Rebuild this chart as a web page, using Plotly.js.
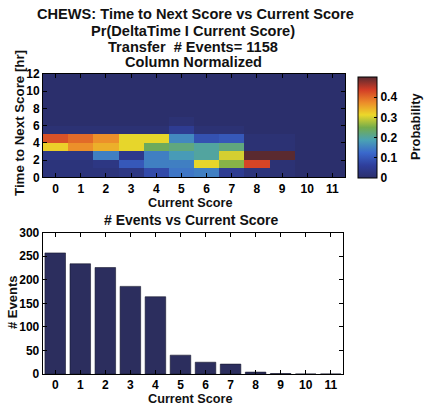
<!DOCTYPE html>
<html>
<head>
<meta charset="utf-8">
<script src="https://cdn.plot.ly/plotly-3.0.1.min.js"></script>
<style>html,body{margin:0;padding:0;background:#fff;}#chart{width:424px;height:406px;}</style>
</head>
<body>
<div id="chart"></div>
<script>
// ---- data ----
const scores = [0,1,2,3,4,5,6,7,8,9,10,11];
const scoreLabels = ['0','1','2','3','4','5','6','7','8','9','10','11'];
const hourCenters = [0.5,1.5,2.5,3.5,4.5,5.5,6.5,7.5,8.5,9.5,10.5,11.5];
// column-normalized probability per time bin (rows), across current scores
const hr0_1   = [0.02,0.02,0.02,0.03,0.08,0.14,0.15,0.05,0.02,0.01,0,0];
const hr1_2   = [0.02,0.02,0.03,0.10,0.15,0.15,0.31,0.26,0.43,0.01,0,0];
const hr2_3   = [0.03,0.03,0.15,0.04,0.15,0.18,0.20,0.30,0.50,0.50,0,0];
const hr3_4   = [0.32,0.37,0.345,0.31,0.24,0.22,0.20,0.22,0.01,0.01,0,0];
const hr4_5   = [0.42,0.40,0.37,0.31,0.31,0.16,0.09,0.10,0.01,0.01,0,0];
const hr5_6   = [0.01,0.01,0.01,0.01,0.01,0.05,0.01,0.01,0,0,0,0];
const hr6_7   = [0,0,0,0,0,0.01,0,0,0,0,0,0];
const hr7_8   = [0,0,0,0,0,0,0,0,0,0,0,0];
const hr8_9   = [0,0,0,0,0,0,0,0,0,0,0,0];
const hr9_10  = [0,0,0,0,0,0,0,0,0,0,0,0];
const hr10_11 = [0,0,0,0,0,0,0,0,0,0,0,0];
const hr11_12 = [0,0,0,0,0,0,0,0,0,0,0,0];
const eventCounts = [257,234,226,186,164,40,25,21,4,1,0,0];
const probTickVals = [0,0.1,0.2,0.3,0.4];
const probTickText = ['0','0.1','0.2','0.3','0.4'];

// ---- layout helpers (pixel -> paper) ----
const W = 424, H = 406;
const px = x => x / W;
const py = y => 1 - y / H;

const FONT = 'Liberation Sans, Arial, Helvetica, sans-serif';
const tickFont = {family: FONT, size: 12, color: '#000', weight: 'bold'};

const colors = [
  [0.0,   '#2b2f6c'],
  [0.125, '#2f3f9c'],
  [0.25,  '#3a68cc'],
  [0.375, '#4aa2b4'],
  [0.5,   '#74ac4c'],
  [0.625, '#ecd82a'],
  [0.75,  '#ec8a2a'],
  [0.875, '#d23c26'],
  [1.0,   '#5a2a30']
];

const heat = {
  type: 'heatmap',
  x: scores,
  y: hourCenters,
  z: [hr0_1,hr1_2,hr2_3,hr3_4,hr4_5,hr5_6,hr6_7,hr7_8,hr8_9,hr9_10,hr10_11,hr11_12],
  zmin: 0, zmax: 0.5,
  colorscale: colors,
  xaxis: 'x', yaxis: 'y',
  hoverinfo: 'skip',
  colorbar: {
    x: px(358), xanchor: 'left',
    y: py(127.5), yanchor: 'middle',
    thickness: 19, thicknessmode: 'pixels',
    len: 101, lenmode: 'pixels',
    xpad: 0, ypad: 0,
    outlinewidth: 1, outlinecolor: '#000',
    tickvals: probTickVals, ticktext: probTickText,
    ticks: 'inside', ticklen: 3, tickcolor: '#000',
    tickfont: tickFont
  }
};

const bars = {
  type: 'bar',
  x: scores,
  y: eventCounts,
  width: 0.82,
  marker: {color: '#2c2e5e', line: {color: '#15172e', width: 0.6}},
  xaxis: 'x2', yaxis: 'y2',
  hoverinfo: 'skip'
};

const axisCommon = {
  showline: true, linecolor: '#000', linewidth: 1, mirror: 'ticks',
  ticks: 'inside', ticklen: 4, tickcolor: '#000',
  showgrid: false, zeroline: false,
  tickfont: tickFont
};

const annFont = s => ({family: FONT, size: s, color: '#111', weight: 'bold'});
const ann = (text, x, y, size, angle) => ({
  text: text, xref: 'paper', yref: 'paper', x: px(x), y: py(y),
  xanchor: 'center', yanchor: 'middle', showarrow: false,
  font: annFont(size), textangle: angle || 0
});

const layout = {
  width: W, height: H,
  margin: {l: 0, r: 0, t: 0, b: 0},
  paper_bgcolor: '#fff', plot_bgcolor: '#fff',
  showlegend: false,
  xaxis: Object.assign({}, axisCommon, {
    domain: [px(43), px(345)], anchor: 'y',
    range: [-0.5, 11.5], tickvals: scores, ticktext: scoreLabels
  }),
  yaxis: Object.assign({}, axisCommon, {
    domain: [py(177.3), py(74)], anchor: 'x',
    range: [0, 12], tickvals: [0,2,4,6,8,10,12]
  }),
  xaxis2: Object.assign({}, axisCommon, {
    domain: [px(42.7), px(343.3)], anchor: 'y2',
    range: [-0.5, 11.5], tickvals: scores, ticktext: scoreLabels
  }),
  yaxis2: Object.assign({}, axisCommon, {
    domain: [py(374), py(232.7)], anchor: 'x2',
    range: [0, 300], tickvals: [0,50,100,150,200,250,300]
  }),
  annotations: [
    ann('CHEWS: Time to Next Score vs Current Score', 195, 13.5, 14.6),
    ann('Pr(DeltaTime I Current Score)', 193, 30.5, 14.6),
    ann('Transfer  # Events= 1158', 193, 46.5, 14.6),
    ann('Column Normalized', 193, 62, 14.6),
    ann('Current Score', 190, 203, 12.7),
    ann('Time to Next Score [hr]', 19, 123, 13.3, -90),
    ann('# Events vs Current Score', 191, 220, 14),
    ann('# Events', 12, 303, 13, -90),
    ann('Current Score', 190, 399, 12.7),
    ann('Probability', 415, 127, 12.9, -90)
  ]
};

Plotly.newPlot('chart', [heat, bars], layout, {staticPlot: true, displayModeBar: false});
</script>
</body>
</html>
